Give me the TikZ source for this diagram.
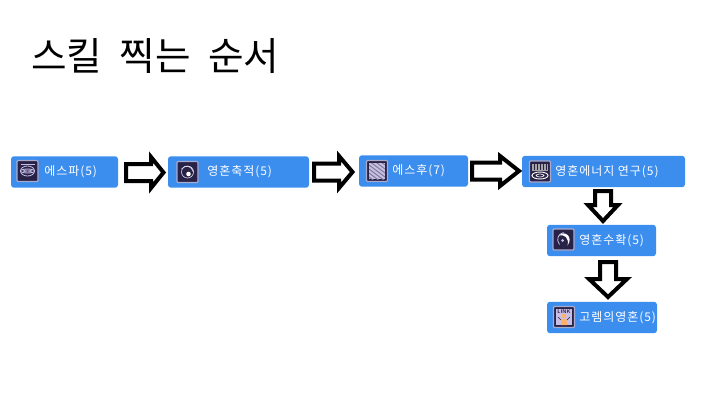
\documentclass[tikz,border=0pt]{standalone}
\usepackage{fontspec}
\setmainfont{Noto Sans CJK KR}
\newfontfamily\kr[LetterSpace=8]{Noto Sans CJK KR}
\newfontfamily\krtitle[WordSpace=2.0]{Noto Sans CJK KR}
\definecolor{boxblue}{RGB}{59,141,238}
\definecolor{icondark}{RGB}{40,34,70}
\definecolor{iconrim}{RGB}{170,170,205}
\definecolor{lav}{RGB}{200,190,230}
\begin{document}
\begin{tikzpicture}[x=0.75pt,y=-0.75pt,
  box/.style={fill=boxblue,rounded corners=2.25pt,inner sep=0pt,minimum height=23.6pt},
  lbl/.style={text=white,font=\kr\fontsize{9pt}{10pt}\selectfont,inner sep=0pt,anchor=west},
  icon/.style={fill=icondark,draw=iconrim,line width=0.9pt,minimum size=15.75pt,inner sep=0pt,rounded corners=0.75pt},
  blk/.style={draw=black,fill=white,line width=3pt,miter limit=10}]
\useasboundingbox (0,0) rectangle (709,417);
% title
\node[font=\krtitle\fontsize{29pt}{32pt}\selectfont,anchor=west,inner sep=0pt] (title) at (31,56) {스킬 찍는 순서};
% boxes
\node[box,minimum width=80.25pt] (b1) at (64.5,172) {};
\node[box,minimum width=105.75pt] (b2) at (238.5,172) {};
\node[box,minimum width=81.75pt] (b3) at (413.5,171) {};
\node[box,minimum width=122.25pt] (b4) at (603.5,171.5) {};
\node[box,minimum width=81.75pt] (b5) at (601.5,240.5) {};
\node[box,minimum width=82.5pt] (b6) at (602,317.5) {};
% labels
\node[lbl] (t1) at (44,172) {에스파(5)};
\node[lbl] (t2) at (207,172) {영혼축적(5)};
\node[lbl] (t3) at (392,171) {에스후(7)};
\node[lbl] (t4) at (555,171.5) {영혼에너지 연구(5)};
\node[lbl] (t5) at (579,240.5) {영혼수확(5)};
\node[lbl] (t6) at (579,317.5) {고렘의영혼(5)};
% icons
\node[icon] (i1) at (27.5,171) {};
\begin{scope}[shift={(i1.center)},draw=lav,line width=0.6pt]
  \draw (0,0) ellipse (7 and 2);
  \draw (0,0) ellipse (7 and 5);
  \draw (0,0) ellipse (4 and 1);
  \draw (-7,-7) -- (7,-7);
\end{scope}
\node[icon] (i2) at (187.5,172) {};
\begin{scope}[shift={(i2.center)}]
  \draw[lav!70,line width=0.5pt] (0,0) circle (6);
  \draw[lav!50,line width=0.5pt] (-6,-3) .. controls (-2,-8) and (4,-6) .. (6,0);
  \fill[white] (1,2) circle (2.3);
\end{scope}
\node[icon] (i3) at (377,171) {};
\begin{scope}[shift={(i3.center)}]
  \fill[lav] (-8,-8) rectangle (8,8);
  \begin{scope}
    \clip (-8,-8) rectangle (8,8);
    \foreach \k in {-16,-12,...,16} \draw[icondark!60,line width=0.7pt] (-8,\k-6) -- (8,\k+6);
  \end{scope}
\end{scope}
\node[icon] (i4) at (540,171.5) {};
\begin{scope}[shift={(i4.center)}]
  \fill[gray!70] (-8,-8) rectangle (8,-1);
  \foreach \k in {-6,-3,...,6} \draw[icondark,line width=0.6pt] (\k,-8) -- (\k,-2);
  \draw[white,line width=0.7pt] (0,4) ellipse (8 and 3.5);
  \draw[white,line width=0.5pt] (0,4) ellipse (4 and 1.5);
\end{scope}
\node[icon] (i5) at (563.5,239.5) {};
\begin{scope}[shift={(i5.center)}]
  \fill[white] (-5,-4) .. controls (2,-10) and (10,-2) .. (4,6) .. controls (6,-1) and (1,-6) .. (-5,-4) -- cycle;
  \draw[lav,line width=0.6pt] (-4,5) .. controls (-8,0) and (-5,-6) .. (0,-7);
  \fill[lav] (-1,1) circle (1.5);
\end{scope}
\node[icon] (i6) at (564,317) {};
\begin{scope}[shift={(i6.center)}]
  \fill[lav] (-8,-8) rectangle (8,8);
  \node[font=\sffamily\bfseries\fontsize{4pt}{4pt}\selectfont,text=icondark,inner sep=0pt] (lk) at (0,-5) {LINK};
  \fill[orange!60!white] (0,-1) circle (2.2);
  \fill[orange!60!white] (-3,8) -- (-2.5,2) -- (2.5,2) -- (3,8) -- cycle;
  \draw[icondark,line width=0.5pt] (-6,0) -- (-3,3) (6,0) -- (3,3);
\end{scope}
% horizontal block arrows
\draw[blk] (126,164) -- (151,164) -- (151,157) -- (163.5,172.5) -- (151,188) -- (151,181) -- (126,181) -- cycle;
\draw[blk] (314,163.5) -- (339,163.5) -- (339,156) -- (352.5,172) -- (339,188) -- (339,180.5) -- (314,180.5) -- cycle;
\draw[blk] (472,162.5) -- (500,162.5) -- (500,156) -- (519,171) -- (500,186) -- (500,179.5) -- (472,179.5) -- cycle;
% vertical block arrows
\draw[blk] (595,191) -- (595,205) -- (588,205) -- (603,221) -- (618,205) -- (611,205) -- (611,191) -- cycle;
\draw[blk] (600,262) -- (600,279) -- (589,279) -- (608,297) -- (627,279) -- (616,279) -- (616,262) -- cycle;
\end{tikzpicture}
\end{document}
